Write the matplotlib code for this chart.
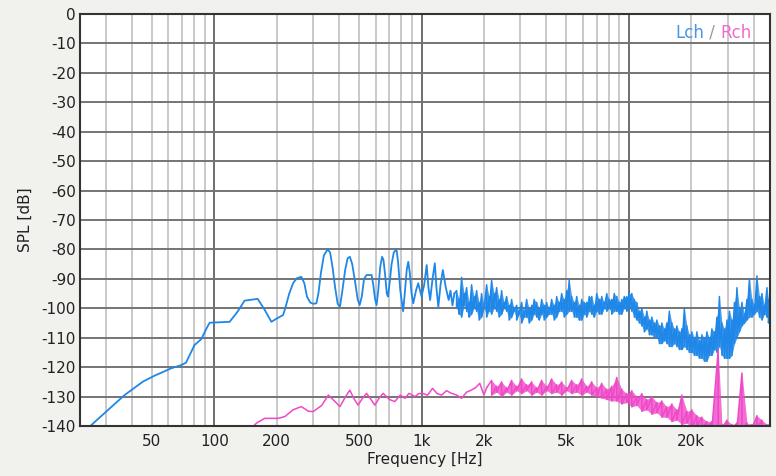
import matplotlib
matplotlib.use("Agg")
import matplotlib.pyplot as plt
import numpy as np

plt.rcParams['font.family'] = ['DejaVu Sans']
plt.rcParams['axes.unicode_minus'] = False

# Lch, low/mid part (smooth trace)
blue_hz = [24, 25.5, 30, 36.9, 45.3, 51.5, 62, 69.3, 73, 80.3,
           86.5, 91.5, 95, 118.6, 130, 140, 162, 175, 188.6, 200,
           214.7, 220, 230, 240, 250, 263, 272, 280, 290, 300,
           311, 318, 327, 338, 352, 362, 372, 383, 394, 404,
           415, 428, 440, 451, 463, 478, 492, 503, 515, 528,
           543, 574, 585, 597, 607, 618, 632, 645, 655, 668,
           680, 689, 700, 717, 735, 757, 770, 790, 815, 830,
           848, 863, 878, 895, 912, 940, 964, 1000, 1030, 1059,
           1080, 1100, 1130, 1159, 1180, 1205, 1235, 1267, 1310, 1352,
           1380, 1410, 1440]
blue_db = [-142, -139.7, -135.2, -129.5, -124.9, -122.9, -120.4, -119.3, -118.5, -112.5,
           -110.5, -107, -104.9, -104.6, -101, -97.4, -96.8, -100.5, -104.6, -103.5,
           -102.3, -100, -95, -91.5, -89.8, -89.3, -91.5, -96, -98, -98.5,
           -98.3, -95, -88, -82, -80, -81, -86, -93, -98.5, -99.5,
           -94, -87, -83, -82.5, -85, -91, -97, -98.9, -96, -90,
           -88.7, -88.7, -92, -97, -98.9, -94, -86, -82.5, -83.5, -89,
           -95, -96, -92, -85, -81, -80, -84, -94, -101, -95,
           -87, -84.2, -88, -95, -98.3, -94, -91.5, -96, -92, -85.3,
           -93, -97.2, -90, -84.7, -93, -99.5, -92, -87, -93, -97.2,
           -94, -99, -95]

# Lch, noisy part (1.4k - 48k): top and bottom of the noise at each frequency
blue_band_hz = [1476, 1518, 1561, 1605, 1650, 1696, 1744, 1793, 1844, 1896, 1949, 2004, 2061, 2119,
                2179, 2240, 2303, 2368, 2435, 2503, 2574, 2646, 2721, 2798, 2877, 2958,
                3041, 3127, 3215, 3306, 3399, 3495, 3594, 3695, 3799, 3906, 4017, 4130, 4246, 4366,
                4489, 4616, 4746, 4880,
                5017, 5159, 5304, 5453, 5607, 5765, 5928, 6095, 6267, 6444, 6626, 6813, 7005, 7202,
                7405, 7614,
                7829, 8049, 8276, 8510, 8750, 8996, 9250, 9511, 9779, 10056, 10340, 10631,
                10930, 11241, 11560, 11885, 12220, 12565, 12920, 13285, 13660, 14045, 14440, 14844,
                15260, 15694, 16140, 16594, 17060, 17538, 18030, 18538,
                19060, 19597, 20150, 20722, 21310, 21912, 22530, 23161, 23810, 24486, 25180, 25890,
                26620, 27369, 28140, 28934, 29750,
                30588, 31450, 32338, 33250, 34191, 35160, 36142, 37150, 38200, 39280, 40390, 41530,
                42699, 43900, 45142, 46420, 47203, 48000]
blue_hi = [-94, -97, -89.5, -95, -93, -98, -92, -96, -94, -98, -95, -99, -92, -96,
           -90.5, -95, -93, -97, -94, -98, -96, -99, -97, -100, -99, -101,
           -98, -101, -97, -100, -99, -97, -98, -100, -97, -99, -98, -100, -97, -99,
           -96, -98, -95, -97,
           -94, -90.5, -96, -98, -96, -99, -97, -98, -98, -96, -96, -99, -95, -97,
           -96, -98,
           -95, -97, -97, -95, -96, -98, -97, -96, -96, -95, -95, -97,
           -98, -101, -100, -103, -101, -104, -103, -105, -104, -106, -105, -107,
           -105, -101, -105, -107, -106, -108, -107, -100,
           -106, -109, -108, -110, -108, -111, -109, -110, -108, -110, -107, -108,
           -103, -96, -105, -107, -104,
           -101, -104, -98, -93, -100, -98, -102, -97, -90, -97, -99, -89,
           -96, -95, -99, -93, -97, -97]
blue_lo = [-100, -102, -103, -99, -101, -103, -102, -100, -101, -104, -103, -100, -103, -101,
           -102, -100, -101, -103, -102, -100, -101, -104, -103, -101, -104, -102,
           -105, -103, -103, -105, -104, -102, -103, -104, -102, -104, -103, -102, -102, -104,
           -103, -101, -101, -103,
           -102, -101, -101, -103, -103, -104, -104, -102, -103, -101, -102, -103, -101, -102,
           -102, -100,
           -101, -100, -102, -101, -101, -102, -102, -100, -101, -100, -101, -103,
           -104, -105, -106, -108, -107, -109, -109, -110, -110, -112, -112, -111,
           -112, -113, -113, -112, -113, -114, -114, -113,
           -114, -115, -115, -116, -116, -117, -117, -118, -118, -116, -116, -114,
           -115, -113, -116, -117, -117,
           -117, -116, -112, -110, -108, -106, -105, -104, -103, -103, -102, -101,
           -103, -104, -102, -103, -105, -105]

# Rch, low/mid part
pink_hz = [150, 160, 175, 203, 219, 240, 263, 285, 300, 330,
           355, 380, 404, 430, 451, 470, 494, 520, 543, 570,
           595, 625, 653, 700, 743, 790, 832, 870, 930, 970,
           1010, 1070, 1130, 1190, 1250, 1320, 1395, 1480, 1558, 1650,
           1740, 1820, 1910, 2000, 2061]
pink_db = [-141, -139, -137.4, -137.4, -136.8, -134.5, -133.4, -135, -135.1, -133,
           -129.5, -131.5, -133.4, -130, -127.8, -130.5, -132.9, -130.5, -128.9, -131,
           -132.9, -130.5, -128.9, -131, -131.7, -129.5, -130.6, -128.9, -130, -129,
           -128.9, -129.5, -127.2, -129, -129.5, -128, -128.9, -129.5, -130.6, -128.5,
           -127.8, -127, -125.5, -129.5, -127]

# Rch, noisy part
pink_band_hz = [2179, 2303, 2435, 2574, 2721, 2877, 3041, 3215, 3399, 3594,
                3799, 4017, 4246, 4489, 4746, 5017, 5304, 5607, 5928, 6267,
                6626, 7005, 7405, 7829, 8276, 8750, 9250, 9779, 10340, 10930,
                11560, 12220, 12920, 13660, 14440, 15260, 16140, 17060, 18030, 19060,
                20150, 21310, 22530, 23810, 25180, 27000, 28140, 29750, 31450, 33250,
                35160, 37150, 39280, 41530, 43900, 46420, 48000]
pink_hi = [-124.5, -126.5, -125, -127, -124.5, -126.5, -124, -126, -125, -127,
           -124.5, -126.5, -124, -126, -125, -127, -124.5, -126, -124, -126.5,
           -125, -127, -125.5, -127.5, -126.5, -123.5, -127.5, -129, -128, -130,
           -129, -131, -130, -132, -131.5, -133.5, -132.5, -134.5, -129.5, -135,
           -134.5, -136.5, -137, -138.5, -138.5, -114, -139.5, -138, -139.5, -139,
           -122, -139, -139.5, -136.5, -138, -139.5, -139]
pink_lo = [-129.5, -128.5, -130, -128.5, -129.5, -128, -129, -128, -129.5, -128.5,
           -129.5, -128, -129, -128.5, -129.5, -128, -129, -128.5, -129.5, -128.5,
           -129.5, -130, -130.5, -131, -131.5, -131.5, -132.5, -132, -133.5, -133,
           -135, -134.5, -136, -135.5, -137, -137, -138.5, -138, -139.5, -139,
           -140.5, -140, -141, -141, -141, -141, -141, -141, -141, -141,
           -141, -141, -141, -141, -141, -141, -141]

xtick_pos = [50, 100, 200, 500, 1000, 2000, 5000, 10000, 20000]
xtick_lab = ['50', '100', '200', '500', '1k', '2k', '5k', '10k', '20k']

BLUE = '#1f87e8'
PINK = '#f048c8'


def weave(hz, hi, lo):
    # alternate top/bottom of the band so the trace looks like noise
    x = np.repeat(hz, 2)
    y = np.column_stack([hi, lo]).ravel()
    return x, y


fig = plt.figure(figsize=(7.76, 4.76), dpi=100, facecolor='#f1f1ee')
ax = fig.add_axes([80/776, 1-426/476, 690/776, 412/476])
ax.set_facecolor('white')
ax.set_xscale('log')
ax.set_xlim(22.5, 48000)
ax.set_ylim(-140, 0)

# grid
for e in (1, 2, 3, 4):
    for m in range(2, 10):
        f = m * 10**e
        if 22.5 < f < 48000:
            ax.axvline(f, color='#c9c9c9', lw=1.4, zorder=1)
for f in (100, 1000, 10000):
    ax.axvline(f, color='#6e6e6e', lw=1.4, zorder=1)
for v in range(-130, 0, 10):
    ax.axhline(v, color='#747474', lw=1.4, zorder=1)

ax.plot(blue_hz, blue_db, color=BLUE, lw=1.3, zorder=3)
bx, by = weave(blue_band_hz, blue_hi, blue_lo)
ax.plot([blue_hz[-1]] + list(bx), [blue_db[-1]] + list(by), color=BLUE, lw=1.1, zorder=3)
ax.fill_between(blue_band_hz, blue_lo, blue_hi, color=BLUE, lw=0, alpha=0.8, zorder=3)

ax.plot(pink_hz, pink_db, color=PINK, lw=1.1, zorder=4)
px, py = weave(pink_band_hz, pink_hi, pink_lo)
ax.plot([pink_hz[-1]] + list(px), [pink_db[-1]] + list(py), color=PINK, lw=1.1, zorder=4)
ax.fill_between(pink_band_hz, pink_lo, pink_hi, color=PINK, lw=0, alpha=0.8, zorder=4)

ax.set_yticks(range(-140, 1, 10))
ax.set_xticks(xtick_pos)
ax.set_xticklabels(xtick_lab)
ax.minorticks_off()
ax.tick_params(length=0, labelsize=11, colors='#222222')
ax.tick_params(axis='x', pad=6)
ax.tick_params(axis='y', pad=3)
for s in ax.spines.values():
    s.set_color('#333333')
    s.set_linewidth(1.5)
    s.set_zorder(5)

ax.set_xlabel('Frequency [Hz]', fontsize=11, color='#222222', labelpad=2)
ax.set_ylabel('SPL [dB]', fontsize=11, color='#222222', labelpad=6)

# "Lch / Rch" key in three colours
t1 = fig.text(675/776, 1-38/476, 'Lch', color='#4a94e6', fontsize=12)
t2 = ax.annotate(' / ', xy=(1, 0), xycoords=t1, va='bottom', color='#9a9a9a', fontsize=12)
ax.annotate('Rch', xy=(1, 0), xycoords=t2, va='bottom', color='#f06ad0', fontsize=12)

fig.savefig('out.png', dpi=100, facecolor=fig.get_facecolor())
